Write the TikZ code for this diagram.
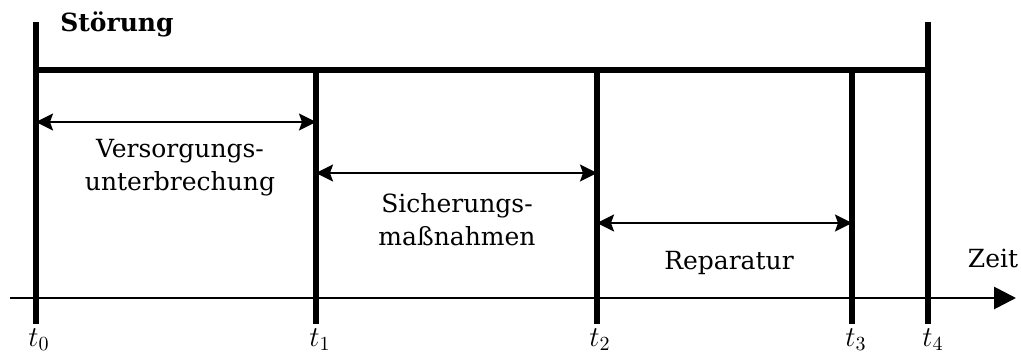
\documentclass[tikz,border=0pt]{standalone}
\usepackage{fontspec}
\setmainfont{DejaVu Serif}
\usetikzlibrary{arrows.meta}
\begin{document}
\begin{tikzpicture}[x=0.5pt,y=-0.5pt,
  thickline/.style={line width=3pt},
  axisline/.style={line width=1.4pt,-{Triangle[length=11pt,width=11pt]}},
  span/.style={line width=1.1pt,{Stealth[length=8.5pt,width=8.5pt,inset=1.5pt]}-{Stealth[length=8.5pt,width=8.5pt,inset=1.5pt]}},
  lbl/.style={font=\fontsize{12.5}{16.5}\selectfont,align=center,inner sep=0pt},
  tlbl/.style={font=\fontsize{14}{16}\selectfont,inner sep=0pt,anchor=base}]
\useasboundingbox (0,0) rectangle (1021,358);
% coordinates
\coordinate (a0) at (36,22);  \coordinate (b0) at (36,324);
\coordinate (a1) at (316,70); \coordinate (b1) at (316,324);
\coordinate (a2) at (597,70); \coordinate (b2) at (597,324);
\coordinate (a3) at (852,70); \coordinate (b3) at (852,324);
\coordinate (a4) at (928,22); \coordinate (b4) at (928,324);
\coordinate (h0) at (36,70);  \coordinate (h4) at (928,70);
\coordinate (x0) at (10,298); \coordinate (x1) at (1016,298);
% axis
\draw[axisline] (x0) -- (x1);
% verticals
\foreach \i in {0,...,4} \draw[thickline] (a\i) -- (b\i);
\draw[thickline] (h0) -- (h4);
% spans
\coordinate (s0l) at (36,122);  \coordinate (s0r) at (316,122);
\coordinate (s1l) at (316,173); \coordinate (s1r) at (597,173);
\coordinate (s2l) at (597,223); \coordinate (s2r) at (852,223);
\draw[span] (s0l) -- (s0r);
\draw[span] (s1l) -- (s1r);
\draw[span] (s2l) -- (s2r);
% labels
\node[lbl] (l0) at (180,168) {Versorgungs-\\unterbrechung};
\node[lbl] (l1) at (457,220) {Sicherungs-\\maßnahmen};
\node[lbl] (l2) at (729,263) {Reparatur};
\node[lbl] (zeit) at (993,258) {Zeit};
\node[lbl,font=\fontsize{12.5}{15}\selectfont\bfseries] (st) at (117,24) {Störung};
\node[tlbl] (t0) at (39,346) {$t_0$};
\node[tlbl] (t1) at (320,346) {$t_1$};
\node[tlbl] (t2) at (600,346) {$t_2$};
\node[tlbl] (t3) at (856,346) {$t_3$};
\node[tlbl] (t4) at (933,346) {$t_4$};
\end{tikzpicture}
\end{document}
